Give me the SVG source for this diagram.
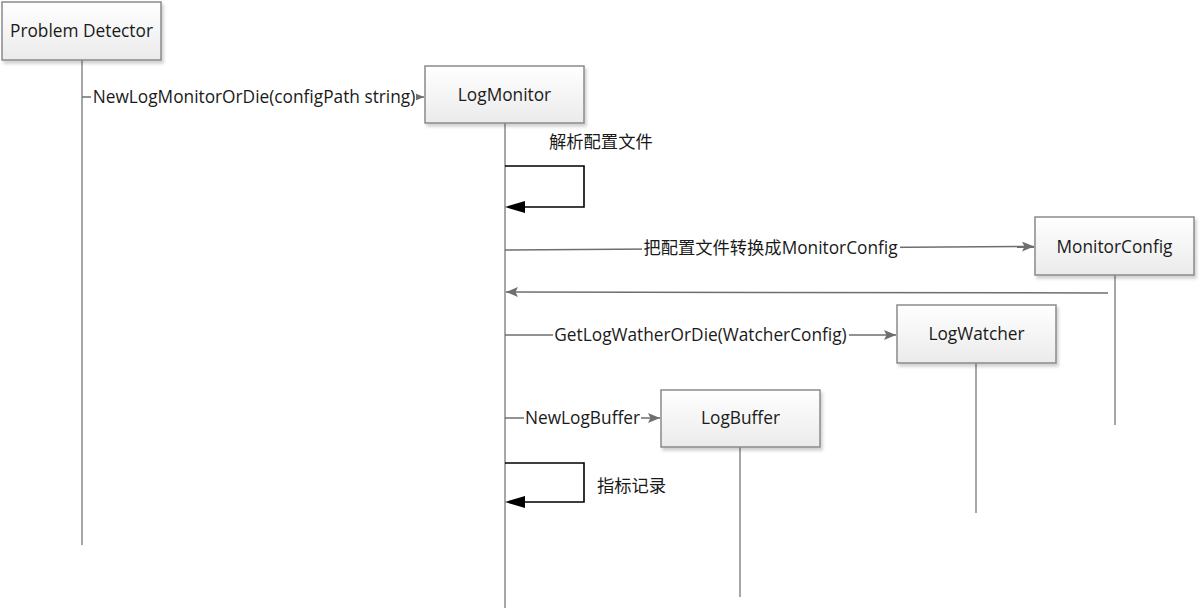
<svg xmlns="http://www.w3.org/2000/svg" width="1200" height="615" viewBox="0 0 1200 615">
<defs>
<linearGradient id="g" x1="0" y1="0" x2="0" y2="1">
<stop offset="0" stop-color="#ffffff"/>
<stop offset="1" stop-color="#ebebeb"/>
</linearGradient>
<filter id="sh" x="-10%" y="-10%" width="130%" height="140%">
<feDropShadow dx="2" dy="3" stdDeviation="1.5" flood-color="#000" flood-opacity="0.18"/>
</filter>
<marker id="ag" viewBox="0 0 12 10" refX="12" refY="5" markerWidth="12" markerHeight="10" markerUnits="userSpaceOnUse" orient="auto">
<path d="M0,0 L12,5 L0,10 L2.5,5 Z" fill="#6e6e6e"/>
</marker>
</defs>
<style>
.box{fill:url(#g);stroke:#8a8a8a;stroke-width:1.5;filter:url(#sh)}
.life{stroke:#8a8a8a;stroke-width:1.5;fill:none}
.msg{stroke:#6e6e6e;stroke-width:1.5;fill:none}
.self{stroke:#000;stroke-width:1.6;fill:none}
text{font-family:"Open Sans","Noto Sans CJK SC",sans-serif;font-size:17.3px;fill:#1a1a1a}
.bl{text-anchor:middle;dominant-baseline:central}
.ml{text-anchor:middle;dominant-baseline:central}
.lab{fill:#fff}
</style>
<g id="lifelines">
<line class="life" x1="82" y1="60" x2="82" y2="545"/>
<line class="life" x1="505" y1="123" x2="505" y2="608"/>
<line class="life" x1="1115" y1="275" x2="1115" y2="425"/>
<line class="life" x1="976" y1="363" x2="976" y2="513"/>
<line class="life" x1="740" y1="447" x2="740" y2="597"/>
</g>
<g id="ProblemDetector">
<rect class="box" x="2" y="2" width="159" height="58"/>
<text class="bl" x="81.5" y="30">Problem Detector</text>
</g>
<g id="LogMonitor">
<rect class="box" x="425" y="66" width="159" height="57"/>
<text class="bl" x="504.5" y="94">LogMonitor</text>
</g>
<g id="MonitorConfig">
<rect class="box" x="1035" y="217" width="159" height="58"/>
<text class="bl" x="1114.5" y="246">MonitorConfig</text>
</g>
<g id="LogWatcher">
<rect class="box" x="897" y="305" width="159" height="58"/>
<text class="bl" x="976.5" y="333">LogWatcher</text>
</g>
<g id="LogBuffer">
<rect class="box" x="661" y="390" width="159" height="57"/>
<text class="bl" x="740.5" y="417">LogBuffer</text>
</g>
<g id="connectors">
<line class="msg" x1="82" y1="97" x2="424" y2="97" marker-end="url(#ag)"/>
<rect class="lab" x="91" y="87" width="325" height="20"/>
<text class="ml" x="254" y="96">NewLogMonitorOrDie(configPath string)</text>

<polyline class="self" points="505,166 584,166 584,207 525,207"/>
<path d="M505,207 L525,201 L525,213 Z" fill="#000"/>
<text x="549" y="148">解析配置文件</text>

<line class="msg" x1="505" y1="250" x2="1034" y2="246.5" marker-end="url(#ag)"/>
<rect class="lab" x="642" y="238" width="258" height="20"/>
<text class="ml" x="770.5" y="247">把配置文件转换成MonitorConfig</text>

<line class="msg" x1="1108" y1="293" x2="506" y2="292" marker-end="url(#ag)"/>

<line class="msg" x1="505" y1="335" x2="896" y2="335" marker-end="url(#ag)"/>
<rect class="lab" x="553" y="325" width="296" height="20"/>
<text class="ml" x="700.5" y="334">GetLogWatherOrDie(WatcherConfig)</text>

<line class="msg" x1="505" y1="418" x2="660" y2="418" marker-end="url(#ag)"/>
<rect class="lab" x="524" y="408" width="117" height="20"/>
<text class="ml" x="582.5" y="417">NewLogBuffer</text>

<polyline class="self" points="505,463 584,463 584,502 525,502"/>
<path d="M505,502 L525,496 L525,508 Z" fill="#000"/>
<text x="597" y="492">指标记录</text>
</g>
</svg>
